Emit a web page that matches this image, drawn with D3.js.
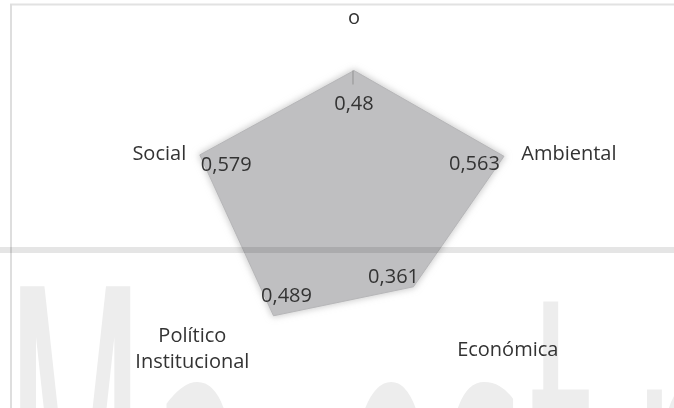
<!DOCTYPE html>
<html>
<head>
<meta charset="utf-8">
<script src="https://cdn.jsdelivr.net/npm/d3@7"></script>
<style>
  html, body { margin: 0; padding: 0; background: #ffffff; }
  svg { display: block; }
</style>
</head>
<body>
<svg id="chart" width="674" height="408"></svg>
<script>
// ---- data ----
const categories = ["o", "Ambiental", "Económica", "Político Institucional", "Social"];
const values = [0.48, 0.563, 0.361, 0.489, 0.579];
const valueLabels = ["0,48", "0,563", "0,361", "0,489", "0,579"];
const radialDomain = [0, 0.6];
const watermarkText = "Maestr";

// ---- layout / style ----
const W = 674, H = 408;
const cx = 354, cy = 205;
const svg = d3.select("#chart");
const font = "'Open Sans', 'Noto Sans', sans-serif";
const textColor = "#333333";

const r = d3.scaleLinear().domain(radialDomain).range([0, 168]);
const angle = d3.scaleLinear().domain([0, categories.length]).range([0, 2 * Math.PI]);
const point = (i, rad) => [cx + rad * Math.sin(angle(i)), cy - rad * Math.cos(angle(i))];

// watermark (behind everything), single text element with per-glyph x positions
const wmX = [4, 150, 338, 440, 528, 632];
const wmSx = 0.5, wmSy = 1.72, wmBase = 700;
svg.append("text")
  .attr("transform", `scale(${wmSx},${wmSy})`)
  .attr("x", wmX.map(v => (v / wmSx).toFixed(1)).join(" "))
  .attr("y", wmBase / wmSy)
  .attr("font-family", "'DejaVu Sans', sans-serif")
  .attr("font-size", 330)
  .attr("fill", "#ededed")
  .text(watermarkText);

// frame lines
svg.append("line").attr("x1", 10).attr("x2", W).attr("y1", 4.5).attr("y2", 4.5)
  .attr("stroke", "#e2e2e2").attr("stroke-width", 2);
svg.append("line").attr("x1", 11).attr("x2", 11).attr("y1", 4).attr("y2", H)
  .attr("stroke", "#dedede").attr("stroke-width", 2);

// glow filter
const defs = svg.append("defs");
const f = defs.append("filter").attr("id", "glow").attr("x", "-20%").attr("y", "-20%")
  .attr("width", "140%").attr("height", "140%");
f.append("feMorphology").attr("in", "SourceAlpha").attr("operator", "dilate").attr("radius", 1).attr("result", "d");
f.append("feGaussianBlur").attr("in", "d").attr("stdDeviation", 3).attr("result", "b");
f.append("feFlood").attr("flood-color", "#b0b0b0").attr("flood-opacity", 0.6);
f.append("feComposite").attr("in2", "b").attr("operator", "in").attr("result", "s");
const m = f.append("feMerge");
m.append("feMergeNode").attr("in", "s");
m.append("feMergeNode").attr("in", "SourceGraphic");

// polygon
const line = d3.line().curve(d3.curveLinearClosed);
svg.append("path")
  .attr("d", line(values.map((v, i) => point(i, r(v)))))
  .attr("fill", "#bfbfc1")
  .attr("stroke", "#b6b6b8")
  .attr("stroke-width", 1)
  .attr("filter", "url(#glow)");

// short axis tick at top vertex
const top0 = point(0, r(values[0]));
svg.append("line").attr("x1", top0[0] - 1).attr("x2", top0[0] - 1)
  .attr("y1", top0[1]).attr("y2", top0[1] + 14)
  .attr("stroke", "#9a9a9a").attr("stroke-width", 1.2);

// horizontal band
svg.append("rect").attr("x", 0).attr("y", 247).attr("width", W).attr("height", 6)
  .attr("fill", "#e5e5e5").style("mix-blend-mode", "multiply");

// data labels
const dlOff = [
  { dx: 0, dy: 39.5, anchor: "middle" },
  { dx: -4, dy: 14, anchor: "end" },
  { dx: 5.6, dy: -4, anchor: "end" },
  { dx: -12.5, dy: -14, anchor: "start" },
  { dx: 1, dy: 16, anchor: "start" }
];
svg.append("g").selectAll("text").data(values).join("text")
  .attr("x", (v, i) => point(i, r(v))[0] + dlOff[i].dx)
  .attr("y", (v, i) => point(i, r(v))[1] + dlOff[i].dy)
  .attr("text-anchor", (v, i) => dlOff[i].anchor)
  .attr("font-family", font).attr("font-size", 20).attr("fill", textColor)
  .text((v, i) => valueLabels[i]);

// category labels
const labelR = 178;
const clOff = [
  { dx: 0, dy: -3 },
  { dx: -2, dy: 10 },
  { dx: -1.5, dy: 7 },
  { dx: 0, dy: -7 },
  { dx: 1.5, dy: 10 }
];
const catG = svg.append("g");
categories.forEach((c, i) => {
  const [px, py] = point(i, labelR);
  const s = Math.sin(angle(i));
  const anchor = Math.abs(s) < 0.1 ? "middle" : (s > 0 ? "start" : "end");
  const words = c.split(" ");
  if (words.length > 1) {
    const t = catG.append("text").attr("font-family", font).attr("font-size", 20)
      .attr("fill", textColor).attr("text-anchor", "middle");
    const spans = words.map((w, k) => t.append("tspan").attr("y", py + clOff[i].dy + k * 26).text(w));
    const maxW = d3.max(spans, sp => sp.node().getComputedTextLength());
    const xc = anchor === "end" ? px + clOff[i].dx - maxW / 2 :
               anchor === "start" ? px + clOff[i].dx + maxW / 2 : px + clOff[i].dx;
    spans.forEach(sp => sp.attr("x", xc));
  } else {
    catG.append("text").attr("x", px + clOff[i].dx).attr("y", py + clOff[i].dy)
      .attr("text-anchor", anchor)
      .attr("font-family", font).attr("font-size", 20).attr("fill", textColor)
      .text(c);
  }
});
</script>
</body>
</html>
